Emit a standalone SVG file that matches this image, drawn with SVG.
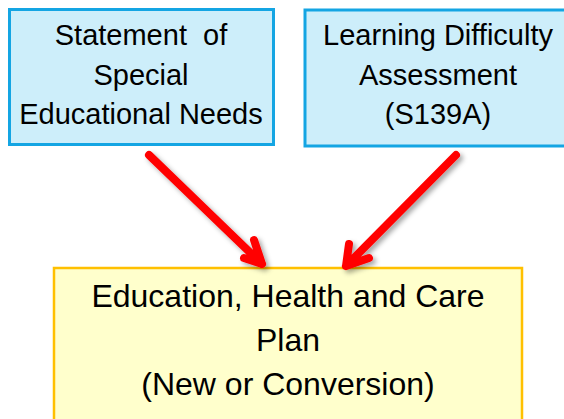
<svg xmlns="http://www.w3.org/2000/svg" width="564" height="419" viewBox="0 0 564 419">
<style>
.blue{fill:#cdeefa;stroke:#14a5e3;stroke-width:3}
.yellow{fill:#ffffcc;stroke:#ffc000;stroke-width:2.5}
text{font-family:"Liberation Sans",Arial,sans-serif;fill:#000;text-anchor:middle}
.t1{font-size:29px}
.t2{font-size:32px}
.arrow{fill:none;stroke:#ff0000;stroke-width:8;stroke-linecap:round;stroke-linejoin:round}
</style>
<defs>
<filter id="sh" x="-20%" y="-20%" width="140%" height="140%">
<feDropShadow dx="3" dy="3" stdDeviation="2.5" flood-color="#000" flood-opacity="0.35"/>
</filter>
</defs>
<rect width="564" height="419" fill="#fff"/>
<g id="node-statement">
<rect class="blue" x="9.5" y="9.5" width="264" height="135"/>
<text class="t1" x="141" y="45" xml:space="preserve">Statement  of</text>
<text class="t1" x="141" y="85">Special</text>
<text class="t1" x="141" y="124">Educational Needs</text>
</g>
<g id="node-lda">
<rect class="blue" x="305" y="10" width="270" height="136"/>
<text class="t1" x="438" y="45">Learning Difficulty</text>
<text class="t1" x="438" y="85">Assessment</text>
<text class="t1" x="438" y="124">(S139A)</text>
</g>
<g id="node-ehcp">
<rect class="yellow" x="54" y="268" width="468" height="160"/>
<text class="t2" x="288" y="307">Education, Health and Care</text>
<text class="t2" x="288" y="351">Plan</text>
<text class="t2" x="288" y="395">(New or Conversion)</text>
</g>
<g id="connectors" filter="url(#sh)">
<path class="arrow" d="M149,155 L262,264 M244,258 L262,264 L254,240"/>
<path class="arrow" d="M456,155 L346,266 M349,244 L346,266 L369,258"/>
</g>
</svg>
